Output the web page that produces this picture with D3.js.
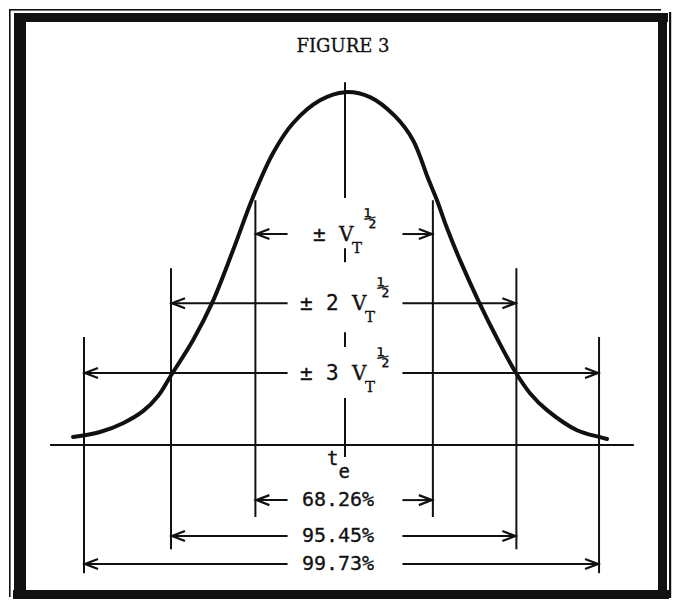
<!DOCTYPE html>
<html>
<head>
<meta charset="utf-8">
<script src="https://cdn.jsdelivr.net/npm/d3@7/dist/d3.min.js"></script>
<style>
body { margin: 0; background: #fff; }
svg { display: block; }
.frame { fill: #111; }
.curve { fill: none; stroke: #111; stroke-width: 4; stroke-linecap: round; stroke-linejoin: round; }
.guide, .baseline, .center-dash, .arrow-line { stroke: #111; stroke-width: 2; fill: none; }
.arrow-head { stroke: #111; stroke-width: 2.2; fill: none; }
.serif { font-family: "DejaVu Serif", "Liberation Serif", serif; fill: #111; stroke: #111; stroke-width: 0.3; }
.sans { font-family: "DejaVu Sans Mono", "Liberation Mono", monospace; fill: #111; stroke: #111; stroke-width: 0.3; }
</style>
</head>
<body>
<div id="chart"></div>
<script>
// curve: t in sigma units, h relative to peak height
var curveT = [-3.126, -2.816, -2.552, -2.322, -2.149, -2.011, -1.747, -1.529, -1.287, -1.057, -0.828, -0.598, -0.287, 0,
              0.287, 0.575, 0.782, 0.954, 1.057, 1.172, 1.322, 1.529, 1.759, 1.966, 2.126, 2.322, 2.667, 2.920, 3.011];
var curveH = [0.023, 0.037, 0.062, 0.096, 0.139, 0.193, 0.297, 0.402, 0.552, 0.703, 0.827, 0.912, 0.977, 1.0,
              0.986, 0.932, 0.864, 0.756, 0.694, 0.615, 0.524, 0.411, 0.297, 0.204, 0.147, 0.099, 0.042, 0.023, 0.017];

// vertical guide lines (left -3,-2,-1 then right +1,+2,+3)
var guideT = [-3.0, -2.0, -1.03, 1.01, 1.97, 2.92];
var guideTop = [0.306, 0.501, 0.694, 0.694, 0.501, 0.306];
var guideBottom = [-0.363, -0.295, -0.204, -0.204, -0.295, -0.363];

// dashed centre line at t_e, pieces [from, to]
var centerDashes = [[1.028, 0.700], [0.558, 0.518], [0.320, 0.278], [0.133, -0.034]];
var baseT = [-3.39, 3.32];

// arrow rows above and below the base line
var upperRows = [0.598, 0.402, 0.204];
var upperFactor = ["", "2", "3"];
var lowerRows = [-0.156, -0.258, -0.337];
var lowerLabels = ["68.26%", "95.45%", "99.73%"];
var labelGap = 0.66;

var width = 678, height = 600;

var x = d3.scaleLinear().domain([-3.5, 3.5]).range([40.5, 649.5]);
var y = d3.scaleLinear().domain([-0.4, 1.1]).range([586.2, 56.9]);

var svg = d3.select("#chart").append("svg")
	.attr("width", width)
	.attr("height", height);

svg.append("rect").attr("width", width).attr("height", height).attr("fill", "#fff");

// border
var frame = svg.append("g");
frame.append("rect").attr("class", "frame").attr("x", 9).attr("y", 9).attr("width", 652).attr("height", 1.6);
frame.append("rect").attr("class", "frame").attr("x", 9).attr("y", 9).attr("width", 1.6).attr("height", 588);
frame.append("rect").attr("class", "frame").attr("x", 669).attr("y", 12).attr("width", 2.2).attr("height", 586);
frame.append("rect").attr("class", "frame").attr("x", 14).attr("y", 13).attr("width", 654).attr("height", 9);
frame.append("rect").attr("class", "frame").attr("x", 14).attr("y", 13).attr("width", 12).attr("height", 586);
frame.append("rect").attr("class", "frame").attr("x", 658).attr("y", 13).attr("width", 9).attr("height", 586);
frame.append("rect").attr("class", "frame").attr("x", 13).attr("y", 590).attr("width", 656).attr("height", 9);

svg.append("text")
	.attr("class", "serif")
	.attr("x", 343)
	.attr("y", 52)
	.attr("text-anchor", "middle")
	.style("font-size", "18px")
	.text("FIGURE 3");

var chart = svg.append("g");

// base line
chart.append("line")
	.attr("class", "baseline")
	.attr("x1", x(baseT[0])).attr("x2", x(baseT[1]))
	.attr("y1", y(0)).attr("y2", y(0));

// guides
chart.selectAll(".guide")
	.data(guideT).enter()
	.append("line")
	.attr("class", "guide")
	.attr("x1", function(d) { return x(d); })
	.attr("x2", function(d) { return x(d); })
	.attr("y1", function(d, i) { return y(guideTop[i]); })
	.attr("y2", function(d, i) { return y(guideBottom[i]); });

chart.selectAll(".center-dash")
	.data(centerDashes).enter()
	.append("line")
	.attr("class", "center-dash")
	.attr("x1", x(0)).attr("x2", x(0))
	.attr("y1", function(d) { return y(d[0]); })
	.attr("y2", function(d) { return y(d[1]); });

// curve
var points = curveT.map(function(t, i) { return [t, curveH[i]]; });
var line = d3.line()
	.x(function(d) { return x(d[0]); })
	.y(function(d) { return y(d[1]); })
	.curve(d3.curveCatmullRom.alpha(0.5));
chart.append("path")
	.datum(points)
	.attr("class", "curve")
	.attr("d", line);

function arrowHead(px, py, dir) {
	return "M" + (px - dir * 13) + "," + (py - 5) + "L" + px + "," + py + "L" + (px - dir * 13) + "," + (py + 5);
}

function addArrowRow(h, i) {
	var left = guideT[2 - i], right = guideT[3 + i];
	var py = y(h);
	chart.append("line").attr("class", "arrow-line")
		.attr("x1", x(left)).attr("x2", x(-labelGap)).attr("y1", py).attr("y2", py);
	chart.append("line").attr("class", "arrow-line")
		.attr("x1", x(labelGap)).attr("x2", x(right)).attr("y1", py).attr("y2", py);
	chart.append("path").attr("class", "arrow-head").attr("d", arrowHead(x(left) + 1, py, -1));
	chart.append("path").attr("class", "arrow-head").attr("d", arrowHead(x(right) - 1, py, 1));
}

upperRows.forEach(addArrowRow);
lowerRows.forEach(addArrowRow);

// ± k V_T^1/2 labels
upperRows.forEach(function(h, i) {
	var cx = x(0), py = y(h) + 7;
	var shift = upperFactor[i] ? 0 : 13;
	chart.append("text").attr("class", "sans")
		.attr("x", cx - 45 + shift).attr("y", py)
		.style("font-size", "21px").text("\u00b1");
	if (upperFactor[i]) {
		chart.append("text").attr("class", "sans")
			.attr("x", cx - 19).attr("y", py)
			.style("font-size", "21px").text(upperFactor[i]);
	}
	chart.append("text").attr("class", "serif")
		.attr("x", cx + 7 - shift).attr("y", py)
		.style("font-size", "20px").text("V");
	chart.append("text").attr("class", "serif")
		.attr("x", cx + 20 - shift).attr("y", py + 12)
		.style("font-size", "15px").text("T");
	chart.append("text").attr("class", "sans")
		.attr("x", cx + 32 - shift).attr("y", py - 16)
		.style("font-size", "21px").text("\u00bd");
});

// t_e
var te = chart.append("text")
	.attr("class", "sans")
	.attr("x", x(0) - 18)
	.attr("y", y(0) + 20)
	.style("font-size", "19px");
te.append("tspan").text("t");
te.append("tspan").attr("dy", 13).text("e");

chart.selectAll(".pct")
	.data(lowerLabels).enter()
	.append("text")
	.attr("class", "sans pct")
	.attr("x", x(0) - 7)
	.attr("y", function(d, i) { return y(lowerRows[i]) + 6; })
	.attr("text-anchor", "middle")
	.style("font-size", "20px")
	.text(function(d) { return d; });
</script>
</body>
</html>
